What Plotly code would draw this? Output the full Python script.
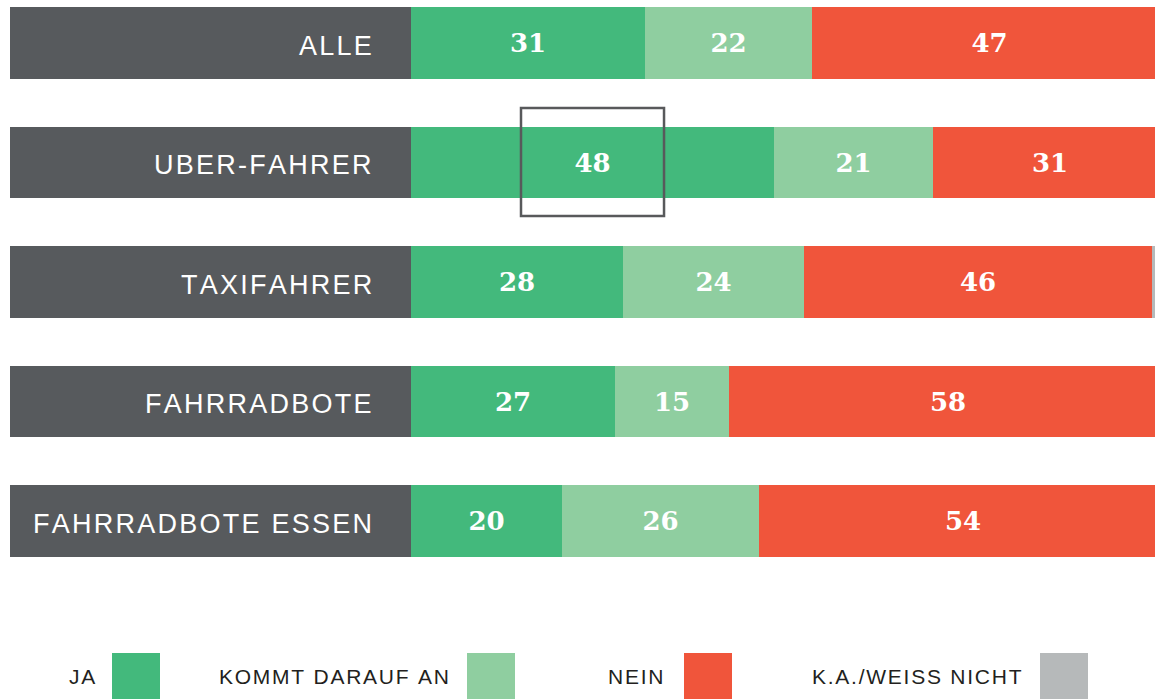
import plotly.graph_objects as go

# Data
groups = ['ALLE', 'UBER-FAHRER', 'TAXIFAHRER', 'FAHRRADBOTE', 'FAHRRADBOTE ESSEN']
ja = [31, 48, 28, 27, 20]
kommt_darauf_an = [22, 21, 24, 15, 26]
nein = [47, 31, 46, 58, 54]
ka_weiss_nicht = [0, 0, 2, 0, 0]

legend_labels = ['JA', 'KOMMT DARAUF AN', 'NEIN', 'K.A./WEISS NICHT']

colors = {
    'label': '#575a5d',
    'ja': '#43b97c',
    'kommt': '#8fcea0',
    'nein': '#f0553b',
    'ka': '#b6b9ba',
    'text': '#231f20',
}

HAIR = '\u200a'


def spaced(s):
    return HAIR.join(s)


rows = list(range(len(groups)))

# pixel geometry: 0% at x=411px, 7.56px per percent
X_MIN = -411 / 7.56
X_MAX = (1155 - 411) / 7.56
LABEL_BASE = -401 / 7.56

fig = go.Figure()

# dark label boxes on the left
fig.add_trace(go.Bar(
    y=rows, x=[-LABEL_BASE] * len(rows), base=LABEL_BASE,
    orientation='h', marker_color=colors['label'], marker_line_width=0,
    width=0.6, hoverinfo='skip', showlegend=False,
))

series = [
    (ja, colors['ja']),
    (kommt_darauf_an, colors['kommt']),
    (nein, colors['nein']),
    (ka_weiss_nicht, colors['ka']),
]
base = [0] * len(rows)
for i, (vals, col) in enumerate(series):
    texts = [str(v) if (v > 0 and i < 3) else '' for v in vals]
    fig.add_trace(go.Bar(
        y=rows, x=vals, base=list(base), orientation='h',
        marker_color=col, marker_line_width=0, width=0.6,
        text=texts, textposition='inside', insidetextanchor='middle',
        textangle=0, constraintext='none',
        textfont=dict(family='DejaVu Serif', size=26, color='white', weight='bold'),
        showlegend=False,
    ))
    base = [b + v for b, v in zip(base, vals)]

# group labels
for r, g in zip(rows, groups):
    fig.add_annotation(
        x=-4.9, y=r + 0.025, xref='x', yref='y', text=spaced(g),
        xanchor='right', yanchor='middle', showarrow=False,
        font=dict(family='Liberation Sans', size=27, color='white'),
    )

# highlight box around the Uber "ja" value
fig.add_shape(
    type='rect', xref='x', yref='y',
    x0=14.55, x1=33.47, y0=0.544, y1=1.448,
    line=dict(color='#58595b', width=2.5), fillcolor='rgba(0,0,0,0)',
)

# custom legend at the bottom
legend_colors = [colors['ja'], colors['kommt'], colors['nein'], colors['ka']]
legend_text_right = [97, 451, 665, 1024]
legend_box_left = [112, 467, 684, 1040]
for lab, col, tx, bx in zip(legend_labels, legend_colors, legend_text_right, legend_box_left):
    fig.add_shape(
        type='rect', xref='paper', yref='paper',
        x0=bx / 1155, x1=(bx + 48) / 1155, y0=-0.05, y1=1 - 653 / 699,
        line_width=0, fillcolor=col,
    )
    fig.add_annotation(
        x=tx / 1155, y=1 - 676 / 699, xref='paper', yref='paper',
        text=spaced(lab), xanchor='right', yanchor='middle', showarrow=False,
        font=dict(family='Liberation Sans', size=21, color=colors['text']),
    )

fig.update_layout(
    width=1155, height=699,
    margin=dict(l=0, r=0, t=0, b=0),
    plot_bgcolor='white', paper_bgcolor='white',
    barmode='overlay', bargap=0,
)
fig.update_xaxes(range=[X_MIN, X_MAX], visible=False, fixedrange=True)
fig.update_yaxes(range=[(699 - 43) / 119.5, -43 / 119.5], visible=False, fixedrange=True)

fig.write_html(
    'out.html',
    config={'displayModeBar': False},
    post_script="document.body.style.margin='0';document.body.style.overflow='hidden';",
)
